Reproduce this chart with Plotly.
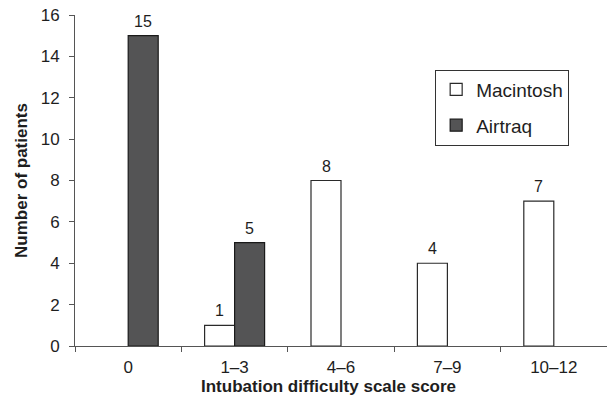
import plotly.graph_objects as go

categories = ["0", "1\u20133", "4\u20136", "7\u20139", "10\u201312"]
macintosh = [None, 1, 8, 4, 7]
airtraq = [15, 5, None, None, None]
y_ticks = [0, 2, 4, 6, 8, 10, 12, 14, 16]

FONT = "Liberation Sans, Arial, sans-serif"
INK = "#1e1e1e"

fig = go.Figure()
fig.add_trace(go.Bar(
    name="Macintosh", x=categories, y=macintosh, legendgroup="m",
    marker=dict(color="white", line=dict(color="#2a2a2a", width=1.2)),
))
fig.add_trace(go.Bar(
    name="Airtraq", x=categories, y=airtraq, legendgroup="a",
    marker=dict(color="#545455", line=dict(color="#1a1a1a", width=1.2)),
))

# value labels above bars
annotations = []
for series, shift in ((macintosh, -15), (airtraq, 15)):
    for cat, v in zip(categories, series):
        if v is None:
            continue
        annotations.append(dict(
            x=cat, y=v, xref="x", yref="y", text=str(v), showarrow=False,
            xanchor="center", yanchor="bottom", xshift=shift, yshift=4,
            font=dict(size=16, color=INK),
        ))

annotations.append(dict(
    text="<b>Intubation difficulty scale score</b>", xref="paper", yref="paper",
    x=0.476, y=-0.088, xanchor="center", yanchor="top", showarrow=False,
    font=dict(size=17, color=INK),
))

fig.update_layout(
    width=607, height=396,
    margin=dict(l=75, r=0, t=15, b=50),
    paper_bgcolor="white", plot_bgcolor="white",
    font=dict(family=FONT, size=16, color=INK),
    barmode="group", bargap=0.436, bargroupgap=0,
    showlegend=True,
    annotations=annotations,
    legend=dict(
        x=0.677, y=0.835, xanchor="left", yanchor="top",
        bordercolor="#333", borderwidth=1,
        font=dict(size=19, color=INK),
        tracegroupgap=8, itemwidth=30,
    ),
    xaxis=dict(
        showline=True, linecolor="#555", linewidth=1,
        ticks="outside", tickson="boundaries", ticklen=5, tickcolor="#555",
        tickfont=dict(size=17), ticklabelstandoff=6,
        showgrid=False, zeroline=False,
    ),
    yaxis=dict(
        range=[0, 16], tickvals=y_ticks,
        showline=True, linecolor="#555", linewidth=1,
        ticks="outside", ticklen=5, tickcolor="#555",
        tickfont=dict(size=17), ticklabelstandoff=6,
        title=dict(text="<b>Number of patients</b>", font=dict(size=17), standoff=8),
        showgrid=False, zeroline=False,
    ),
)

fig.write_html("out.html")
